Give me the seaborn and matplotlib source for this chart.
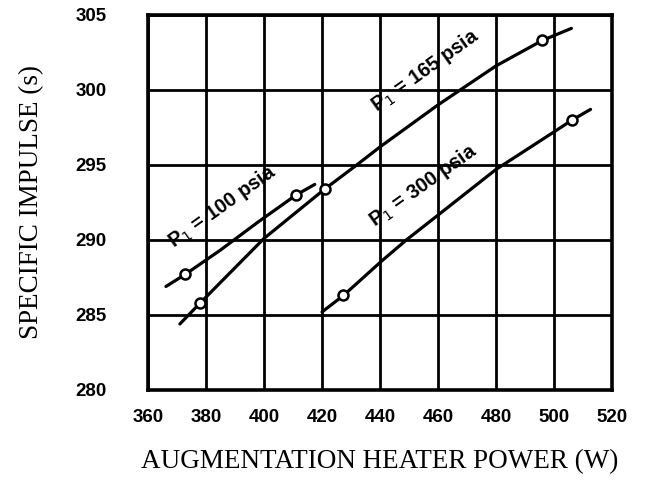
# Specific impulse vs. augmentation heater power, three inlet pressures

import numpy as np
import matplotlib
matplotlib.use("Agg")
import matplotlib.pyplot as plt
import seaborn as sns
import pandas as pd


# Curves (against the nearest grid lines)
curve_100_x = [366.2, 372.8, 384.8, 398.0, 411.1, 417.5]
curve_100_y = [286.9, 287.7, 289.3, 291.2, 293.0, 293.7]

curve_165_x = [371.0, 378.0, 400.0, 421.0, 432.0, 440.0, 460.0, 480.0, 496.0, 506.0]
curve_165_y = [284.4, 285.8, 290.1, 293.4, 295.0, 296.2, 299.0, 301.6, 303.3, 304.1]

curve_300_x = [420.0, 427.4, 440.6, 449.1, 460.3, 480.0, 500.0, 506.3, 512.6]
curve_300_y = [285.2, 286.3, 288.6, 290.0, 291.7, 294.7, 297.2, 298.0, 298.7]

# Measured points (open circles)
pts_100_x = [372.8, 411.1]
pts_100_y = [287.7, 293.0]
pts_165_x = [378.0, 421.0, 496.0]
pts_165_y = [285.8, 293.4, 303.3]
pts_300_x = [427.4, 506.3]
pts_300_y = [286.3, 298.0]

series_names = ["100", "165", "300"]
label_texts = ["P$_1$ = 100 psia", "P$_1$ = 165 psia", "P$_1$ = 300 psia"]
label_xy = [(385.5, 292.2), (455.5, 301.3), (455.0, 293.6)]

x_ticks = [360, 380, 400, 420, 440, 460, 480, 500, 520]
y_ticks = [280, 285, 290, 295, 300, 305]

curves = pd.concat([
    pd.DataFrame({"power": curve_100_x, "isp": curve_100_y, "series": "100"}),
    pd.DataFrame({"power": curve_165_x, "isp": curve_165_y, "series": "165"}),
    pd.DataFrame({"power": curve_300_x, "isp": curve_300_y, "series": "300"}),
])
points = pd.concat([
    pd.DataFrame({"power": pts_100_x, "isp": pts_100_y, "series": "100"}),
    pd.DataFrame({"power": pts_165_x, "isp": pts_165_y, "series": "165"}),
    pd.DataFrame({"power": pts_300_x, "isp": pts_300_y, "series": "300"}),
])

sns.set_style("white")
plt.rcParams["font.family"] = ["Liberation Sans", "DejaVu Sans"]
plt.rcParams["text.color"] = "black"

fig = plt.figure(figsize=(6.49, 4.8), dpi=100)
ax = fig.add_axes([0.228, 0.1875, 0.715, 0.7815])

black = {name: "black" for name in series_names}

sns.lineplot(data=curves, x="power", y="isp", hue="series", palette=black,
             units="series", estimator=None, sort=False, linewidth=2.3,
             legend=False, ax=ax, zorder=3)
sns.scatterplot(data=points, x="power", y="isp", color="white",
                edgecolor="black", linewidth=1.8, s=52, legend=False,
                ax=ax, zorder=4)

for txt, (tx, ty) in zip(label_texts, label_xy):
    ax.text(tx, ty, txt, rotation=35.5, ha="center", va="center",
            fontsize=14.5, fontweight="bold", color="black", zorder=5)

ax.set_xlim(360, 520)
ax.set_ylim(280, 305)
ax.set_xticks(x_ticks)
ax.set_yticks(y_ticks)
ax.grid(True, color="black", linewidth=2.0)
ax.set_axisbelow(True)
for sp in ax.spines.values():
    sp.set_color("black")
    sp.set_linewidth(2.6)

ax.tick_params(axis="both", length=0, labelsize=13.5, labelcolor="black")
ax.tick_params(axis="x", pad=14)
ax.tick_params(axis="y", pad=30)
for lab in ax.get_xticklabels() + ax.get_yticklabels():
    lab.set_fontweight("bold")

ax.set_xlabel("AUGMENTATION HEATER POWER (W)", family="Liberation Serif",
              fontsize=19.5, labelpad=16, color="black")
ax.set_ylabel("SPECIFIC IMPULSE (s)", family="Liberation Serif",
              fontsize=19.5, labelpad=22, color="black")

fig.savefig("out.png", dpi=100)
